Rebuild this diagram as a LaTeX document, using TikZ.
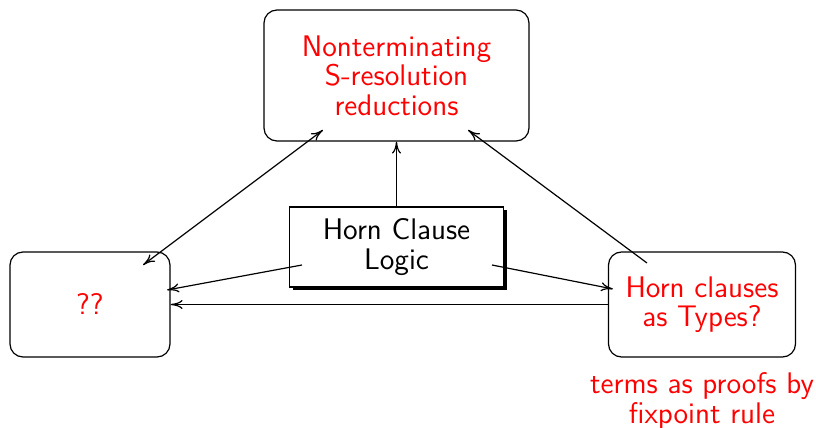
\documentclass[tikz,border=0pt]{standalone}
\usetikzlibrary{shadows,arrows.meta}
\begin{document}
\begin{tikzpicture}[x=0.5pt,y=-0.5pt,
  font=\sffamily\fontsize{14.9}{14.8}\selectfont,
  box/.style={draw, line width=0.6pt, rounded corners=6.5pt, align=center, inner sep=0pt},
  arr/.style={-{To[length=6pt,width=4.5pt]}, line width=0.6pt},
  darr/.style={{To[length=6pt,width=4.5pt]}-{To[length=6pt,width=4.5pt]}, line width=0.6pt}]
\useasboundingbox (0,0) rectangle (816,428);

% boxes
\node[box, minimum width=132.5pt, minimum height=65.5pt, text=red] (top) at (396.5,75.5)
  {Nonterminating\\S-resolution\\reductions};
\node[draw, line width=0.6pt, fill=white, align=center, inner sep=0pt,
  minimum width=107pt, minimum height=40pt,
  drop shadow={shadow xshift=1.5pt, shadow yshift=-1.5pt, fill=black, opacity=1}]
  (hcl) at (396.5,247) {Horn Clause\\Logic};
\node[box, minimum width=80pt, minimum height=52.5pt, text=red] (q) at (90,304.5) {??};
\node[box, minimum width=93.5pt, minimum height=52.5pt, text=red] (hct) at (702,304.5)
  {Horn clauses\\as Types?};
\node[text=red, align=center, inner sep=0pt] (terms) at (702,401)
  {terms as proofs by\\fixpoint rule};

% connectors
\draw[darr] ([shift={(53,-39.5)}]q.center) -- ([shift={(-73.5,54.5)}]top.center);
\draw[arr] (hcl.north) -- (top.south);
\draw[arr] ([shift={(-55,-41.5)}]hct.center) -- ([shift={(71.5,54.5)}]top.center);
\draw[arr] ([shift={(-94.5,18)}]hcl.center) -- ([shift={(77,-14.5)}]q.center);
\draw[arr] ([shift={(95.5,18)}]hcl.center) -- ([shift={(-89,-15.5)}]hct.center);
\draw[arr] (hct.west) -- (q.east);
\end{tikzpicture}
\end{document}
